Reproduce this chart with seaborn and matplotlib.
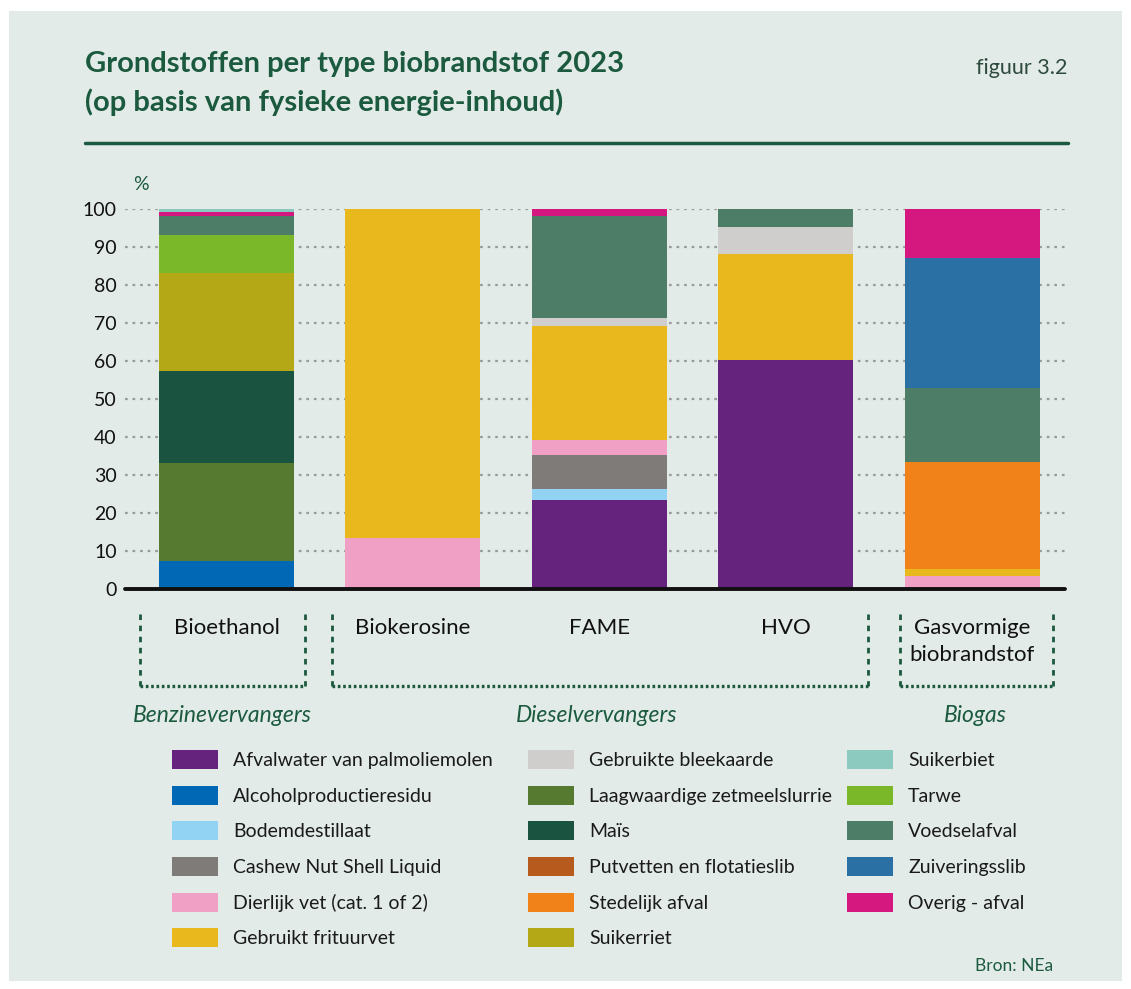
import seaborn as sns
import matplotlib.pyplot as plt
import pandas as pd
from matplotlib.patches import Patch, Rectangle
from matplotlib.lines import Line2D


###############################################################################
### DATA (percent of physical energy content)
###############################################################################
fuels = ['Bioethanol', 'Biokerosine', 'FAME', 'HVO', 'Gasvormige']
fuel_labels = ['Bioethanol', 'Biokerosine', 'FAME', 'HVO', 'Gasvormige\nbiobrandstof']

# one list per feedstock, values in order of `fuels`
afvalwater_palm = [0.0, 0.2, 23.4, 60.3, 0.2]
alcoholresidu = [7.4, 0.0, 0.0, 0.0, 0.0]
bodemdestillaat = [0.0, 0.0, 2.9, 0.0, 0.0]
cashew_nsl = [0.0, 0.0, 9.0, 0.0, 0.0]
dierlijk_vet = [0.0, 13.3, 3.9, 0.0, 3.3]
frituurvet = [0.0, 86.5, 30.0, 27.9, 1.8]
bleekaarde = [0.0, 0.0, 2.1, 7.1, 0.0]
zetmeelslurrie = [25.8, 0.0, 0.0, 0.0, 0.0]
mais = [24.2, 0.0, 0.0, 0.0, 0.0]
putvetten = [0.0, 0.0, 0.0, 0.0, 0.0]
stedelijk_afval = [0.0, 0.0, 0.0, 0.0, 28.1]
suikerriet = [25.8, 0.0, 0.0, 0.0, 0.0]
suikerbiet = [0.8, 0.0, 0.0, 0.0, 0.0]
tarwe = [10.0, 0.0, 0.0, 0.0, 0.0]
voedselafval = [5.0, 0.0, 26.9, 4.7, 19.5]
zuiveringsslib = [0.0, 0.0, 0.0, 0.0, 34.2]
overig_afval = [1.0, 0.0, 1.8, 0.0, 12.9]

feedstocks = {
    'Afvalwater van palmoliemolen': (afvalwater_palm, '#66237d'),
    'Alcoholproductieresidu': (alcoholresidu, '#0068b4'),
    'Bodemdestillaat': (bodemdestillaat, '#92d3f3'),
    'Cashew Nut Shell Liquid': (cashew_nsl, '#7f7b79'),
    'Dierlijk vet (cat. 1 of 2)': (dierlijk_vet, '#f09fc5'),
    'Gebruikt frituurvet': (frituurvet, '#e9b81c'),
    'Gebruikte bleekaarde': (bleekaarde, '#cfcecc'),
    'Laagwaardige zetmeelslurrie': (zetmeelslurrie, '#567a2f'),
    'Maïs': (mais, '#1a5340'),
    'Putvetten en flotatieslib': (putvetten, '#b75a1e'),
    'Stedelijk afval': (stedelijk_afval, '#f08219'),
    'Suikerriet': (suikerriet, '#b5a817'),
    'Suikerbiet': (suikerbiet, '#8ccac0'),
    'Tarwe': (tarwe, '#7ab82a'),
    'Voedselafval': (voedselafval, '#4d7d67'),
    'Zuiveringsslib': (zuiveringsslib, '#2b70a5'),
    'Overig - afval': (overig_afval, '#d41880'),
}
legend_order = list(feedstocks.keys())
# stacking order bottom -> top (suikerbiet sits on top in the original)
stack_order = [k for k in legend_order if k != 'Suikerbiet'] + ['Suikerbiet']

rows = []
for name, (vals, _) in feedstocks.items():
    for fuel, v in zip(fuels, vals):
        rows.append({'fuel': fuel, 'feedstock': name, 'value': v})
df = pd.DataFrame(rows)

###############################################################################
### STYLE
###############################################################################
sns.set_style('white')
plt.rcParams['font.family'] = ['Lato', 'DejaVu Sans']

GREEN = '#1b5a3e'
BG = '#e2ebe8'
W, H = 1131, 989


def fx(px):
    return px / W


def fy(py):
    return 1 - py / H


fig = plt.figure(figsize=(W / 100, H / 100), dpi=100, facecolor='white')
fig.add_artist(Rectangle((fx(9), fy(981)), fx(1113), 970 / H, transform=fig.transFigure,
                         facecolor=BG, edgecolor='none', zorder=-10))

ax = fig.add_axes([fx(125), fy(589), fx(940), 380 / H])
ax.set_facecolor(BG)

# stacked bars, one seaborn call per feedstock
bottom = pd.Series(0.0, index=fuels)
for name in stack_order:
    sub = df[df['feedstock'] == name].set_index('fuel').loc[fuels].reset_index()
    sns.barplot(data=sub, x='fuel', y='value', order=fuels, color=feedstocks[name][1],
                saturation=1, width=0.724, errorbar=None, bottom=bottom.values,
                linewidth=0, ax=ax, zorder=3)
    bottom = bottom + sub['value'].values

ax.set_xlim(-0.544, 4.496)
ax.set_ylim(0, 100)
ax.set_yticks(range(0, 101, 10))
ax.tick_params(axis='y', length=0, pad=6, labelsize=14, labelcolor='#111111')
ax.set_xticks(range(len(fuels)))
ax.set_xticklabels(fuel_labels)
ax.tick_params(axis='x', length=0, pad=21, labelsize=16, labelcolor='#111111')
for lab in ax.get_xticklabels():
    lab.set_linespacing(1.45)
ax.set_xlabel('')
ax.set_ylabel('')
for s in ax.spines.values():
    s.set_visible(False)
ax.yaxis.grid(True, linestyle=(0, (1.2, 2.2)), color='#9a9a9a', linewidth=1.6, zorder=0)
ax.set_axisbelow(True)
ax.axhline(0, color='#111111', linewidth=2.8, zorder=5, clip_on=False)

###############################################################################
### TEXT AND DECORATIONS
###############################################################################
fig.text(fx(85), fy(64), 'Grondstoffen per type biobrandstof 2023', fontsize=21,
         fontweight='bold', color=GREEN, va='center', ha='left')
fig.text(fx(85), fy(102), '(op basis van fysieke energie-inhoud)', fontsize=21,
         fontweight='bold', color=GREEN, va='center', ha='left')
fig.text(fx(1067), fy(68), 'figuur 3.2', fontsize=15.5, color='#2d4a3c', va='center', ha='right')
fig.add_artist(Line2D([fx(85), fx(1068)], [fy(143), fy(143)], transform=fig.transFigure,
                      color=GREEN, linewidth=2.5))
fig.text(fx(141), fy(185), '%', fontsize=14, color=GREEN, va='center', ha='center')

# dotted group brackets
for x0, x1 in [(140, 305), (332, 868), (900, 1053)]:
    for xv in (x0, x1):
        fig.add_artist(Line2D([fx(xv), fx(xv)], [fy(614), fy(686)], transform=fig.transFigure,
                              color=GREEN, linewidth=2, linestyle=(0, (2, 2))))
    fig.add_artist(Line2D([fx(x0), fx(x1)], [fy(686), fy(686)], transform=fig.transFigure,
                          color=GREEN, linewidth=2.4, linestyle=(0, (0.8, 0.8))))

for xc, txt in [(222, 'Benzinevervangers'), (597, 'Dieselvervangers'), (975, 'Biogas')]:
    fig.text(fx(xc), fy(715), txt, fontsize=16.5, style='italic', color=GREEN,
             va='center', ha='center')

# legend in three columns
cols = [legend_order[0:6], legend_order[6:12], legend_order[12:17]]
for xs, names in zip([172, 528, 847], cols):
    handles = [Patch(facecolor=feedstocks[n][1], edgecolor='none', label=n) for n in names]
    fig.legend(handles=handles, loc='upper left', bbox_to_anchor=(fx(xs), fy(750)),
               frameon=False, fontsize=14, handlelength=2.37, handleheight=1.13,
               handletextpad=0.77, labelspacing=0.85, borderpad=0, borderaxespad=0,
               labelcolor='#1a1a1a')

fig.text(fx(1053), fy(966), 'Bron: NEa', fontsize=12.5, color=GREEN, va='center', ha='right')

fig.savefig('out.png', dpi=100, facecolor=fig.get_facecolor())
